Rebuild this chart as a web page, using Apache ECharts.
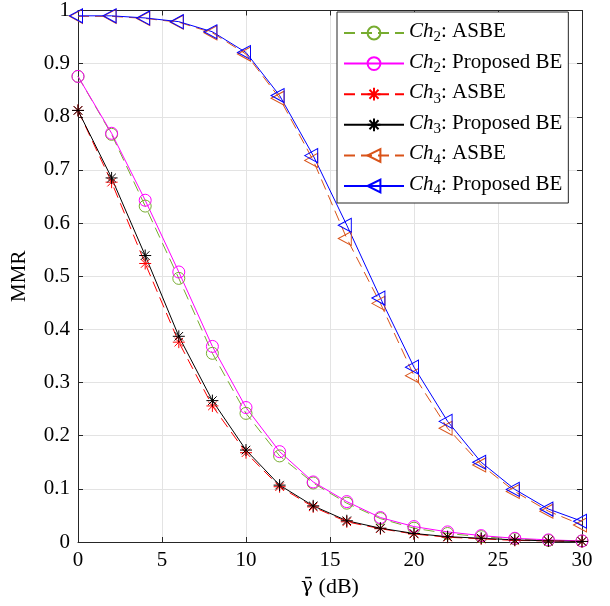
<!DOCTYPE html>
<html>
<head>
<meta charset="utf-8">
<script src="https://cdn.jsdelivr.net/npm/echarts@6/dist/echarts.min.js"></script>
<style>html,body{margin:0;padding:0;background:#fff}#c{width:610px;height:606px}</style>
</head>
<body>
<div id="c"></div>
<script>
const snr = [0, 2, 4, 6, 8, 10, 12, 14, 16, 18, 20, 22, 24, 26, 28, 30];
const ch2Asbe = [0.876, 0.767, 0.632, 0.496, 0.355, 0.242, 0.162, 0.111, 0.073, 0.044, 0.026, 0.016, 0.010, 0.006, 0.003, 0.002];
const ch2Prop = [0.876, 0.769, 0.643, 0.508, 0.368, 0.253, 0.170, 0.113, 0.076, 0.046, 0.029, 0.019, 0.012, 0.007, 0.004, 0.002];
const ch3Asbe = [0.812, 0.677, 0.524, 0.376, 0.256, 0.168, 0.104, 0.066, 0.038, 0.025, 0.015, 0.009, 0.006, 0.003, 0.002, 0.001];
const ch3Prop = [0.812, 0.685, 0.539, 0.387, 0.266, 0.173, 0.107, 0.068, 0.040, 0.026, 0.016, 0.010, 0.007, 0.004, 0.002, 0.001];
const ch4Asbe = [0.989, 0.989, 0.985, 0.978, 0.958, 0.918, 0.835, 0.718, 0.571, 0.449, 0.313, 0.214, 0.145, 0.095, 0.058, 0.032];
const ch4Prop = [0.990, 0.990, 0.986, 0.979, 0.960, 0.921, 0.840, 0.727, 0.596, 0.459, 0.329, 0.227, 0.150, 0.099, 0.062, 0.039];
const seriesNames = ['Ch2: ASBE', 'Ch2: Proposed BE', 'Ch3: ASBE', 'Ch3: Proposed BE', 'Ch4: ASBE', 'Ch4: Proposed BE'];

const FONT = 'Liberation Serif';
const AXC = '#262626';
const STAR = 'path://M5,0 L5,10 M0,5 L10,5 M1.46,1.46 L8.54,8.54 M1.46,8.54 L8.54,1.46';
const TRI = 'path://M0,5 L10,0 L10,10 Z';

function pairs(ys) { return snr.map((x, i) => [x, ys[i]]); }

function mk(name, ys, color, dashed, symbol, size, offset) {
  return {
    name: name,
    type: 'line',
    data: pairs(ys),
    symbol: symbol,
    symbolSize: size,
    symbolOffset: offset || [0, 0],
    showAllSymbol: true,
    clip: false,
    lineStyle: { color: color, width: 1, type: dashed ? [11, 6] : 'solid' },
    itemStyle: { color: 'rgba(0,0,0,0)', borderColor: color, borderWidth: 1 },
    emphasis: { disabled: true }
  };
}

const chart = echarts.init(document.getElementById('c'));
chart.setOption({
  animation: false,
  backgroundColor: '#fff',
  grid: { left: 78, right: 28, top: 10, bottom: 64, containLabel: false },
  legend: {
    orient: 'vertical',
    left: 337,
    top: 12,
    padding: [9, 6, 5, 6],
    itemWidth: 60,
    itemHeight: 16,
    itemGap: 6.6,
    backgroundColor: '#fff',
    borderColor: AXC,
    borderWidth: 1,
    data: seriesNames,
    formatter: function (n) {
      const m = n.match(/^Ch(\d): (.*)$/);
      return '{i|Ch}{s|' + m[1] + '}{n|: ' + m[2] + '}';
    },
    textStyle: {
      fontFamily: FONT,
      fontSize: 21,
      color: '#000',
      width: 166,
      rich: {
        i: { fontFamily: FONT, fontSize: 21, fontStyle: 'italic', lineHeight: 24, verticalAlign: 'top', color: '#000' },
        s: { fontFamily: FONT, fontSize: 15, lineHeight: 24, verticalAlign: 'bottom', color: '#000' },
        n: { fontFamily: FONT, fontSize: 21, lineHeight: 24, verticalAlign: 'top', color: '#000' }
      }
    }
  },
  xAxis: [{
    type: 'value', min: 0, max: 30, interval: 5,
    name: '{g|γ̄} (dB)',
    nameLocation: 'middle',
    nameGap: 30,
    nameTextStyle: {
      fontFamily: FONT, fontSize: 22, color: '#000',
      rich: { g: { fontFamily: 'DejaVu Serif', fontSize: 20, color: '#000' } }
    },
    axisLine: { show: true, lineStyle: { color: AXC, width: 1 } },
    axisTick: { show: true, inside: true, length: 5, lineStyle: { color: AXC } },
    axisLabel: { fontFamily: FONT, fontSize: 21, color: '#000', margin: 8 },
    splitLine: { show: true, lineStyle: { color: '#e3e3e3', width: 1 } }
  }, {
    type: 'value', min: 0, max: 30, interval: 5, position: 'top',
    axisLine: { show: true, onZero: false, lineStyle: { color: AXC, width: 1 } },
    axisTick: { show: true, inside: true, length: 5, lineStyle: { color: AXC } },
    axisLabel: { show: false },
    splitLine: { show: false }
  }],
  yAxis: [{
    type: 'value', min: 0, max: 1, interval: 0.1,
    name: 'MMR',
    nameLocation: 'middle',
    nameGap: 48,
    nameTextStyle: { fontFamily: FONT, fontSize: 21, color: '#000' },
    axisLine: { show: true, lineStyle: { color: AXC, width: 1 } },
    axisTick: { show: true, inside: true, length: 5, lineStyle: { color: AXC } },
    axisLabel: {
      fontFamily: FONT, fontSize: 21, color: '#000', margin: 8,
      formatter: function (v) { return (v === 0 || v === 1) ? String(v) : v.toFixed(1); }
    },
    splitLine: { show: true, lineStyle: { color: '#e3e3e3', width: 1 } }
  }, {
    type: 'value', min: 0, max: 1, interval: 0.1, position: 'right',
    axisLine: { show: true, onZero: false, lineStyle: { color: AXC, width: 1 } },
    axisTick: { show: true, inside: true, length: 5, lineStyle: { color: AXC } },
    axisLabel: { show: false },
    splitLine: { show: false }
  }],
  series: [
    mk(seriesNames[0], ch2Asbe, '#77AC30', true, 'circle', 12),
    mk(seriesNames[1], ch2Prop, '#FF00FF', false, 'circle', 12),
    mk(seriesNames[2], ch3Asbe, '#FF0000', true, STAR, 12),
    mk(seriesNames[3], ch3Prop, '#000000', false, STAR, 12),
    mk(seriesNames[4], ch4Asbe, '#D95319', true, TRI, [13, 14], [-2, 0]),
    mk(seriesNames[5], ch4Prop, '#0000FF', false, TRI, [13, 14], [-2, 0])
  ]
});
</script>
</body>
</html>
